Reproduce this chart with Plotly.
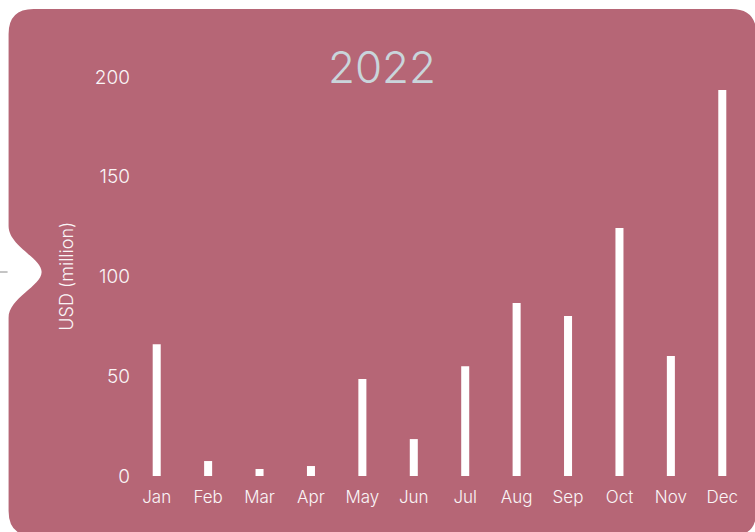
import plotly.graph_objects as go

months = ["Jan", "Feb", "Mar", "Apr", "May", "Jun", "Jul", "Aug", "Sep", "Oct", "Nov", "Dec"]
usd_million = [66, 7.5, 3.5, 5, 48.6, 18.5, 55, 86.7, 80.2, 124.3, 60.2, 193.5]
y_ticks = [0, 50, 100, 150, 200]
title_text = "2022"
y_title = "USD (million)"

W, H = 755, 532
OFF = 0  # body margin removed below
L = 131.3 - OFF
R = W - (747.7 - OFF)
T = 77 - OFF
B = H - (476 - OFF)
PW, PH = W - L - R, H - T - B

def xp(px):
    return (px - OFF - L) / PW

def yp(py):
    return (H - B - (py - OFF)) / PH

def P(px, py):
    return f"{xp(px):.5f},{yp(py):.5f}"

bg = "#B66676"
font_fam = "Inter, Roboto, sans-serif"
txt = "#FAF5F6"

path = (
    f"M {P(34,9)} L {P(731,9)} Q {P(756,9)} {P(756,34)} L {P(756,511)} "
    f"Q {P(756,536)} {P(731,536)} L {P(34,536)} Q {P(9,536)} {P(9,511)} "
    f"L {P(9,318)} C {P(9,298)} {P(42,286)} {P(42,272)} "
    f"C {P(42,258)} {P(9,246)} {P(9,226)} L {P(9,34)} Q {P(9,9)} {P(34,9)} Z"
)

fig = go.Figure()
fig.add_trace(go.Bar(x=months, y=usd_million, marker=dict(color="#FFFFFF", line=dict(width=0)),
                     width=0.156, hoverinfo="x+y"))

fig.update_layout(
    width=W, height=H,
    margin=dict(l=L, r=R, t=T, b=B, pad=0),
    paper_bgcolor="#FFFFFF",
    plot_bgcolor="rgba(0,0,0,0)",
    showlegend=False,
    font=dict(family=font_fam, color=txt, size=18, weight=300),
    title=dict(text=title_text, x=(382 - OFF) / W, xref="container", xanchor="center",
               y=1 - (68 - OFF) / H, yref="container", yanchor="middle",
               font=dict(size=44, color="#C9D5DB", family=font_fam, weight=300)),
    xaxis=dict(range=[-0.5, 11.5], showgrid=False, zeroline=False, showline=False,
               ticks="", tickfont=dict(size=17, weight=300), ticklabelstandoff=9),
    yaxis=dict(range=[0, 200], tickvals=y_ticks, showgrid=False, zeroline=False,
               showline=False, ticks="", tickfont=dict(size=19, weight=300), ticklabelstandoff=0),
    shapes=[
        dict(type="path", xref="paper", yref="paper", path=path, fillcolor=bg,
             line=dict(width=0), layer="below"),
        dict(type="line", xref="paper", yref="paper", x0=xp(0), x1=xp(8), y0=yp(272), y1=yp(272),
             line=dict(color="#8A8A8A", width=1), layer="below"),
    ],
    annotations=[
        dict(text=y_title, xref="paper", yref="paper", x=xp(66), y=yp(276),
             textangle=-90, showarrow=False, xanchor="center", yanchor="middle",
             font=dict(size=18, color=txt, family=font_fam, weight=300)),
    ],
)

fig.write_html("out.html", config={"displayModeBar": False},
               post_script="document.body.style.margin='0';document.body.style.overflow='hidden';")
